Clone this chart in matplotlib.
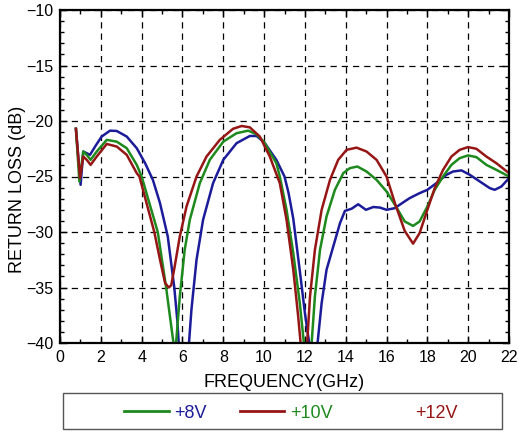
import matplotlib
matplotlib.use('Agg')
import matplotlib.pyplot as plt
from matplotlib.lines import Line2D
from matplotlib.patches import Rectangle
from matplotlib.ticker import MultipleLocator

plt.rcParams['font.family'] = ['Liberation Sans', 'DejaVu Sans']

# ---------- données ----------
f_8v = [0.78, 1.01, 1.14, 1.47, 1.72, 2.04, 2.45, 2.78, 3.27, 3.76, 4.17, 4.55,
        4.9, 5.28, 5.6, 5.75, 5.85, 6.05, 6.28, 6.44, 6.69, 7.01, 7.5, 8.0, 8.65,
        9.3, 9.63, 10.0, 10.6, 11.0, 11.2, 11.43, 11.75, 12.0, 12.21, 12.4,
        12.62, 12.82, 13.06, 13.39, 13.72, 13.96, 14.29, 14.61, 14.99, 15.35,
        15.68, 16.0, 16.41, 16.64, 17.13, 17.62, 18.0, 18.44, 18.93, 19.26, 19.67,
        20.08, 20.57, 21.06, 21.3, 21.63, 22.0]
rl_8v = [-20.7, -25.75, -22.75, -23.05, -22.3, -21.4, -20.87, -20.9, -21.4, -22.45,
         -23.8, -25.3, -27.4, -30.4, -35.0, -38.0, -41.0, -44.0, -41.0, -37.0,
         -32.5, -28.9, -25.6, -23.5, -22.0, -21.35, -21.35, -21.9, -23.5, -25.0,
         -26.5, -28.8, -33.5, -37.3, -40.0, -43.0, -40.0, -36.4, -33.4, -31.3,
         -29.2, -28.1, -27.9, -27.5, -28.0, -27.75, -27.8, -28.0, -27.85, -27.55,
         -26.95, -26.5, -26.2, -25.6, -24.85, -24.55, -24.45, -24.85, -25.45,
         -26.05, -26.2, -25.9, -25.15]

f_10v = [0.78, 0.95, 1.14, 1.31, 1.5, 1.8, 2.29, 2.78, 3.27, 3.76, 4.0, 4.79, 5.2,
         5.56, 5.67, 5.87, 6.11, 6.36, 6.85, 7.34, 8.0, 8.65, 9.22, 9.63, 10.0,
         10.6, 10.77, 11.1, 11.43, 11.75, 11.95, 12.14, 12.33, 12.49, 12.74, 13.06,
         13.47, 13.88, 14.2, 14.57, 15.02, 15.51, 16.0, 16.41, 16.89, 17.3, 17.62,
         18.0, 18.36, 18.77, 19.18, 19.58, 19.99, 20.4, 20.89, 21.38, 22.0]
rl_10v = [-20.7, -25.45, -22.75, -23.05, -23.5, -22.75, -21.7, -21.86, -22.45,
          -23.95, -25.0, -30.0, -35.0, -40.0, -40.4, -35.8, -31.6, -28.9, -25.6,
          -23.5, -21.86, -21.1, -20.87, -21.2, -21.9, -23.8, -25.0, -28.0, -31.9,
          -36.4, -40.0, -42.5, -40.0, -35.8, -31.6, -28.6, -26.2, -24.7, -24.25,
          -24.1, -24.55, -25.3, -26.35, -27.55, -29.05, -29.45, -29.05, -27.7,
          -26.2, -25.0, -23.95, -23.35, -23.1, -23.25, -23.95, -24.4, -25.0]

f_12v = [0.78, 0.98, 1.14, 1.31, 1.5, 1.8, 2.29, 2.78, 3.27, 3.76, 3.89, 4.62, 4.9,
         5.15, 5.33, 5.45, 5.62, 5.87, 6.2, 6.69, 7.18, 7.83, 8.48, 8.9, 9.3, 9.79,
         10.28, 10.77, 11.1, 11.43, 11.67, 11.79, 11.95, 12.11, 12.25, 12.49,
         12.82, 13.23, 13.63, 14.04, 14.53, 15.02, 15.51, 16.0, 16.41, 16.89,
         17.3, 17.62, 18.0, 18.36, 18.77, 19.18, 19.58, 19.99, 20.4, 20.89,
         21.38, 22.0]
rl_12v = [-20.7, -25.15, -23.2, -23.5, -23.95, -23.2, -22.07, -22.3, -23.05, -24.7,
          -25.0, -30.0, -32.5, -34.6, -35.0, -34.8, -33.1, -30.4, -27.7, -25.0,
          -23.2, -21.7, -20.7, -20.45, -20.57, -21.4, -23.2, -25.6, -28.9, -33.4,
          -37.6, -40.0, -42.5, -40.0, -35.8, -31.6, -28.0, -25.3, -23.5, -22.6,
          -22.4, -22.75, -23.5, -25.0, -27.4, -29.9, -31.05, -30.1, -28.0, -26.05,
          -24.4, -23.2, -22.6, -22.35, -22.5, -23.2, -23.8, -24.7]

labels = ['+8V', '+10V', '+12V']
colors = ['#1c1c9a', '#1e8a1e', '#961616']

# ---------- tracé ----------
fig = plt.figure(figsize=(5.18, 4.33), dpi=100)
ax = fig.add_axes([60 / 518, 1 - 343 / 433, 449 / 518, 333 / 433])

ax.plot(f_8v, rl_8v, color=colors[0], lw=1.8)
ax.plot(f_10v, rl_10v, color=colors[1], lw=1.8)
ax.plot(f_12v, rl_12v, color=colors[2], lw=1.8)

ax.set_xlim(0, 22)
ax.set_ylim(-40, -10)
ax.xaxis.set_major_locator(MultipleLocator(2))
ax.xaxis.set_minor_locator(MultipleLocator(1))
ax.yaxis.set_major_locator(MultipleLocator(5))
ax.yaxis.set_minor_locator(MultipleLocator(1))
ax.tick_params(which='both', direction='in', top=True, right=True, labelsize=11.5, pad=5)
ax.tick_params(which='major', length=5, width=1)
ax.tick_params(which='minor', length=3, width=1)
ax.grid(True, which='major', color='black', linestyle=(0, (5, 4)), linewidth=0.9)
for s in ax.spines.values():
    s.set_linewidth(1.6)

ax.set_xlabel('FREQUENCY(GHz)', fontsize=13, labelpad=6.5)
ax.set_ylabel('RETURN LOSS (dB)', fontsize=13)
ax.yaxis.set_label_coords(-0.075, 0.46)

# légende telle qu'elle apparaît (décalée) sur l'original
handles = [Line2D([], [], color=colors[1], lw=2),
           Line2D([], [], color=colors[2], lw=2),
           Line2D([], [], color='none')]
leg = fig.legend(handles, labels, loc='center', bbox_to_anchor=(291 / 518, 1 - 413 / 433),
                 ncol=3, frameon=False, fontsize=13, handlelength=2.45,
                 handletextpad=0.33, columnspacing=1.8)
for txt, c in zip(leg.get_texts(), colors):
    txt.set_color(c)

fig.patches.append(Rectangle((63 / 518, 1 - 429 / 433), 439 / 518, 36 / 433,
                             transform=fig.transFigure, fill=False,
                             edgecolor='#555555', linewidth=1))

fig.savefig('out.png', dpi=100)
